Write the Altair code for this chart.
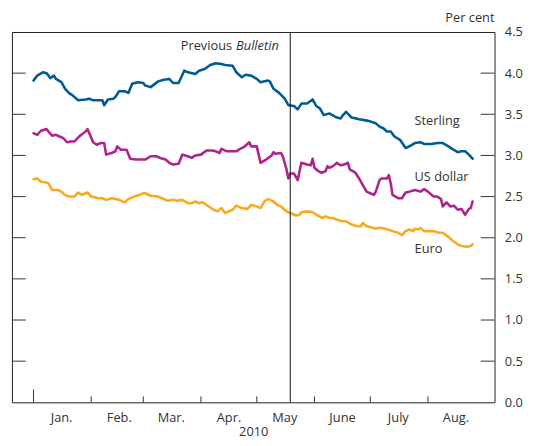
import altair as alt
import pandas as pd

# days since 1 Jan 2010, and yields (per cent)
STERLING_DAYS = [0, 2, 5, 7, 9, 11, 12, 15, 17, 19, 21, 24, 28, 30, 32, 35, 37, 38, 40, 43, 44, 46, 49, 51, 53, 56, 59,
                 60, 63, 67, 70, 73, 75, 78, 81, 83, 87, 89, 92, 95, 98, 101, 103, 107, 109, 112, 114, 117, 120, 122,
                 126, 127, 129, 132, 135, 137, 140, 142, 144, 147, 150, 152, 154, 156, 159, 163, 165, 166, 168, 171,
                 175, 180, 184, 186, 188, 190, 192, 194, 197, 200, 202, 205, 208, 210, 214, 217, 220, 223, 225, 228,
                 230, 232, 234, 236]
STERLING = [3.91, 3.97, 4.01, 4.00, 3.94, 3.97, 3.93, 3.89, 3.81, 3.76, 3.73, 3.67, 3.68, 3.69, 3.67, 3.67, 3.67, 3.61,
            3.68, 3.69, 3.71, 3.78, 3.78, 3.76, 3.87, 3.89, 3.88,
            3.85, 3.83, 3.90, 3.92, 3.93, 3.88, 3.88, 4.03, 4.01, 3.99, 4.03, 4.05, 4.10, 4.12, 4.11, 4.10, 4.09, 4.01,
            3.95, 3.98, 3.97, 3.93, 3.89,
            3.91, 3.90, 3.81, 3.76, 3.69, 3.61, 3.60, 3.56, 3.63, 3.63, 3.68, 3.60, 3.57, 3.49, 3.51, 3.46, 3.45,
            3.48, 3.53, 3.46, 3.44, 3.42, 3.39, 3.35, 3.33, 3.29, 3.29, 3.23, 3.19, 3.09, 3.11, 3.15, 3.16, 3.14,
            3.14, 3.15, 3.15, 3.11, 3.08, 3.04, 3.05, 3.05, 3.01, 2.96]

DOLLAR_DAYS = [0, 2, 4, 7, 8, 10, 12, 14, 16, 18, 20, 22, 25, 28, 29, 30, 32, 34, 36, 38, 39, 42, 44, 45, 47, 50, 52,
               55, 58, 60, 63, 66, 68, 71, 73, 75, 78, 80, 83, 85, 87, 90, 93, 96, 98, 100, 101, 104, 106, 109, 111,
               113, 116, 117, 120, 121, 122, 125, 128, 129, 130, 133, 134, 136, 137, 138, 140, 142, 143, 144, 147,
               149, 150, 151, 153, 155, 157, 158, 159, 161, 163, 165, 167, 169, 170, 173, 175, 177, 179, 181, 183,
               184, 186, 187, 190, 191, 192, 193, 196, 198, 200, 202, 205, 208, 210, 212, 215, 217, 219, 220, 222,
               224, 226, 228, 230, 232, 234, 235, 236]
DOLLAR = [3.27, 3.25, 3.30, 3.32, 3.29, 3.24, 3.25, 3.23, 3.21, 3.16, 3.17, 3.17, 3.24, 3.29, 3.32, 3.27, 3.16, 3.13,
          3.15, 3.15, 3.01, 3.03, 3.05, 3.11, 3.07, 3.07, 2.96, 2.95, 2.95, 2.95, 2.99, 2.99, 2.97, 2.95, 2.91, 2.89,
          2.90, 3.01, 2.99, 2.97, 3.00, 3.01, 3.06, 3.06, 3.05, 3.03, 3.08, 3.05, 3.05, 3.05, 3.08, 3.10, 3.16, 3.11,
          3.11, 3.01, 2.91, 2.95, 3.00, 3.04, 3.02, 3.03, 2.99, 2.83, 2.72, 2.78, 2.78, 2.70, 2.81, 2.91, 2.89, 2.88,
          2.96, 2.85, 2.81, 2.79, 2.81, 2.87, 2.85, 2.87, 2.91, 2.88, 2.89, 2.91, 2.83, 2.79, 2.72, 2.64, 2.56, 2.54,
          2.52, 2.56, 2.70, 2.72, 2.72, 2.76, 2.66, 2.52, 2.48, 2.48, 2.55, 2.56, 2.58, 2.56, 2.59, 2.56, 2.50, 2.50,
          2.47, 2.38, 2.43, 2.38, 2.39, 2.34, 2.35, 2.28, 2.35, 2.36, 2.44]

EURO_DAYS = [0, 2, 4, 7, 8, 10, 13, 15, 17, 19, 22, 24, 26, 29, 31, 35, 37, 39, 42, 44, 46, 49, 51, 54, 57, 59, 60,
             63, 67, 69, 72, 75, 77, 80, 83, 85, 87, 89, 91, 94, 97, 99, 101, 103, 105, 107, 109, 112, 115, 117,
             120, 122, 124, 126, 129, 131, 133, 136, 138, 141, 143, 144, 147, 150, 152, 155, 157, 159, 161, 163,
             166, 168, 171, 174, 176, 177, 179, 181, 184, 186, 189, 193, 196, 198, 200, 202, 204, 205, 207, 208,
             210, 213, 215, 218, 220, 223, 225, 228, 230, 233, 235, 236]
EURO = [2.71, 2.72, 2.68, 2.67, 2.66, 2.58, 2.58, 2.56, 2.52, 2.50, 2.50, 2.55, 2.52, 2.55, 2.50, 2.48, 2.48, 2.46,
        2.48, 2.47, 2.46, 2.43, 2.47, 2.50, 2.52, 2.54, 2.54, 2.51, 2.50, 2.48, 2.45, 2.46, 2.45, 2.46, 2.42, 2.42,
        2.44, 2.42, 2.43, 2.38, 2.34, 2.32, 2.36, 2.30, 2.32, 2.34, 2.39, 2.36, 2.35, 2.40, 2.38, 2.36, 2.44, 2.47,
        2.44, 2.40, 2.38, 2.32, 2.30, 2.27, 2.28, 2.31, 2.32, 2.31, 2.28, 2.24, 2.26, 2.24, 2.24, 2.22, 2.20, 2.20,
        2.16, 2.14, 2.14, 2.18, 2.14, 2.13, 2.11, 2.12, 2.11, 2.08, 2.06, 2.03, 2.08, 2.10, 2.08, 2.11, 2.10, 2.12,
        2.08, 2.08, 2.08, 2.06, 2.06, 2.01, 1.97, 1.92, 1.90, 1.89, 1.90, 1.92]

SERIES = ["Sterling", "US dollar", "Euro"]
COLORS = ["#005b92", "#b0228c", "#f9aa1c"]

MONTH_STARTS = [0, 31, 59, 90, 120, 151, 181, 212]
MONTH_LABELS = ["Jan.", "Feb.", "Mar.", "Apr.", "May", "June", "July", "Aug."]
Y_TICKS = [0.0, 0.5, 1.0, 1.5, 2.0, 2.5, 3.0, 3.5, 4.0, 4.5]
X_DOMAIN = [-11.6, 247.8]
PREV_BULLETIN_DAY = 138  # 19 May 2010

LABEL_DAY = 204.8
LABEL_VALUES = [3.42, 2.74, 1.86]

FONT = "Open Sans"
W, H = 490, 376

rows = []
for name, days, vals in [("Sterling", STERLING_DAYS, STERLING), ("US dollar", DOLLAR_DAYS, DOLLAR),
                         ("Euro", EURO_DAYS, EURO)]:
    for d, v in zip(days, vals):
        rows.append({"series": name, "day": d, "value": v})
df = pd.DataFrame(rows)

xscale = alt.Scale(domain=X_DOMAIN, nice=False, zero=False)
yscale = alt.Scale(domain=[0, 4.5], nice=False, zero=True)

label_expr = " : ".join(f"datum.value == {d} ? '{l}'" for d, l in zip(MONTH_STARTS, MONTH_LABELS)) + " : ''"

lines = alt.Chart(df).mark_line(strokeWidth=2.6, strokeJoin="round", strokeCap="round").encode(
    x=alt.X("day:Q", scale=xscale,
            axis=alt.Axis(values=MONTH_STARTS, labelExpr=label_expr, title="2010", ticks=False, tickSize=0,
                          domain=False, grid=False, labelOffset=28, labelPadding=9, labelFlush=False,
                          labelOverlap=False, labelBound=False, titlePadding=2)),
    y=alt.Y("value:Q", scale=yscale,
            axis=alt.Axis(orient="right", values=Y_TICKS, format=".1f", title=None, ticks=False, tickSize=0,
                          domain=False, grid=False, labelPadding=10)),
    color=alt.Color("series:N", scale=alt.Scale(domain=SERIES, range=COLORS), legend=None),
    detail="series:N",
)

ytick_df = pd.DataFrame({"v": [t for t in Y_TICKS if 0 < t < 4.5]})
left_ticks = alt.Chart(ytick_df).mark_rule(color="#333", strokeWidth=1).encode(
    y=alt.Y("v:Q", scale=yscale), x=alt.value(0), x2=alt.value(14))
right_ticks = alt.Chart(ytick_df).mark_rule(color="#333", strokeWidth=1).encode(
    y=alt.Y("v:Q", scale=yscale), x=alt.value(W - 14), x2=alt.value(W))

xtick_df = pd.DataFrame({"d": MONTH_STARTS[1:]})
bottom_ticks = alt.Chart(xtick_df).mark_rule(color="#333", strokeWidth=1).encode(
    x=alt.X("d:Q", scale=xscale), y=alt.value(H - 6), y2=alt.value(H))
year_tick = alt.Chart(pd.DataFrame({"d": [MONTH_STARTS[0]]})).mark_rule(color="#333", strokeWidth=1).encode(
    x=alt.X("d:Q", scale=xscale), y=alt.value(H - 13), y2=alt.value(H))

vline = alt.Chart(pd.DataFrame({"d": [PREV_BULLETIN_DAY]})).mark_rule(color="#111", strokeWidth=1).encode(
    x=alt.X("d:Q", scale=xscale), y=alt.value(0), y2=alt.value(H))

prev_txt = alt.Chart(pd.DataFrame({"d": [PREV_BULLETIN_DAY]})).mark_text(
    text="Previous", align="right", baseline="middle", dx=-59, font=FONT, fontSize=13, color="#333").encode(
    x=alt.X("d:Q", scale=xscale), y=alt.value(14))
bull_txt = alt.Chart(pd.DataFrame({"d": [PREV_BULLETIN_DAY]})).mark_text(
    text="Bulletin", align="left", baseline="middle", dx=-55, font=FONT, fontSize=13, fontStyle="italic",
    color="#333").encode(
    x=alt.X("d:Q", scale=xscale), y=alt.value(14))

lab_df = pd.DataFrame({"series": SERIES, "day": [LABEL_DAY] * 3, "value": LABEL_VALUES})
labels = alt.Chart(lab_df).mark_text(align="left", baseline="middle", font=FONT, fontSize=13, color="#333").encode(
    x=alt.X("day:Q", scale=xscale), y=alt.Y("value:Q", scale=yscale), text="series:N")

percent = alt.Chart(pd.DataFrame({"t": ["Per cent"]})).mark_text(
    align="right", baseline="middle", font=FONT, fontSize=13, color="#333").encode(
    x=alt.value(W), y=alt.value(-14), text="t:N")

chart = alt.layer(lines, left_ticks, right_ticks, bottom_ticks, year_tick, vline, prev_txt, bull_txt, labels,
                  percent).properties(
    width=W, height=H,
    autosize=alt.AutoSizeParams(type="none"),
    padding={"left": 4, "top": 21, "right": 35, "bottom": 41},
).configure_view(stroke="#222", strokeWidth=1).configure_axis(
    labelFont=FONT, labelFontSize=13, labelColor="#333", titleFont=FONT, titleFontSize=13,
    titleFontWeight="normal", titleColor="#333")

chart.save("out.html", embed_options={"renderer": "svg", "actions": False})
